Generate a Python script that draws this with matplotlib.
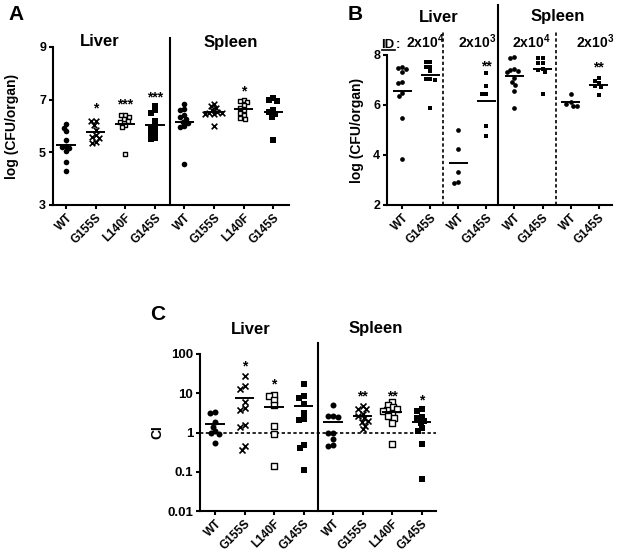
import numpy as np
import matplotlib
matplotlib.use('Agg')
import matplotlib.pyplot as plt
from matplotlib.lines import Line2D

plt.rcParams['font.family'] = ['Liberation Sans', 'DejaVu Sans']
plt.rcParams['font.weight'] = 'bold'
plt.rcParams['mathtext.fontset'] = 'custom'
plt.rcParams['mathtext.rm'] = 'Liberation Sans:bold'
plt.rcParams['mathtext.bf'] = 'Liberation Sans:bold'
plt.rcParams['mathtext.it'] = 'Liberation Sans:bold'

# ---------------- Data ----------------
strain_labels = ['WT', 'G155S', 'L140F', 'G145S', 'WT', 'G155S', 'L140F', 'G145S']
b_labels = ['WT', 'G145S', 'WT', 'G145S', 'WT', 'G145S', 'WT', 'G145S']

# Panel A: log(CFU/organ)
a_liver_wt = [6.07, 5.93, 5.80, 5.45, 5.25, 5.20, 5.15, 5.05, 4.65, 4.28]
a_liver_g155s = [6.20, 6.20, 6.05, 5.85, 5.65, 5.60, 5.55, 5.40, 5.35]
a_liver_l140f = [6.40, 6.40, 6.35, 6.25, 6.20, 6.15, 6.05, 5.95, 4.93]
a_liver_g145s = [6.77, 6.60, 6.50, 6.20, 5.95, 5.90, 5.75, 5.70, 5.55, 5.50]
a_spleen_wt = [6.85, 6.65, 6.60, 6.40, 6.35, 6.25, 6.15, 6.10, 6.00, 5.95, 4.55]
a_spleen_g155s = [6.85, 6.75, 6.70, 6.60, 6.55, 6.50, 6.50, 6.45, 6.45, 6.00]
a_spleen_l140f = [7.00, 6.95, 6.90, 6.80, 6.70, 6.60, 6.50, 6.40, 6.30, 6.25]
a_spleen_g145s = [7.05, 6.98, 6.95, 6.60, 6.55, 6.45, 6.35, 5.45]
a_stars = {1: '*', 2: '***', 3: '***', 6: '*'}
a_star_y = {1: 6.84, 2: 6.96, 3: 7.24, 6: 7.47}

# Panel B: log(CFU/organ), infectious doses 2x10^4 and 2x10^3
b_liver_wt_4 = [7.53, 7.47, 7.45, 7.33, 6.93, 6.88, 6.47, 6.35, 5.47, 3.84]
b_liver_g145s_4 = [7.73, 7.73, 7.53, 7.50, 7.36, 7.05, 7.03, 7.00, 5.87]
b_liver_wt_3 = [5.00, 4.25, 3.33, 2.93, 2.87]
b_liver_g145s_3 = [7.29, 6.76, 6.45, 6.42, 5.16, 4.77]
b_spleen_wt_4 = [7.93, 7.87, 7.45, 7.40, 7.35, 7.30, 7.07, 6.93, 6.80, 6.55, 5.89]
b_spleen_g145s_4 = [7.87, 7.87, 7.67, 7.67, 7.45, 7.40, 7.30, 6.43]
b_spleen_wt_3 = [6.45, 6.10, 6.05, 5.95, 5.95]
b_spleen_g145s_3 = [7.07, 6.97, 6.87, 6.75, 6.72, 6.40]
b_stars = {3: '**', 7: '**'}
b_star_y = {3: 7.72, 7: 7.68}
b_doses = [r'$\mathbf{2x10^4}$', r'$\mathbf{2x10^3}$', r'$\mathbf{2x10^4}$', r'$\mathbf{2x10^3}$']

# Panel C: competitive index
c_liver_wt = [3.3, 3.2, 1.8, 1.4, 1.1, 0.95, 0.9, 0.55]
c_liver_g155s = [28, 15, 13, 5.9, 4.3, 3.8, 1.55, 1.35, 0.46, 0.36]
c_liver_l140f = [9.0, 8.5, 6.8, 5.1, 1.48, 0.93, 0.14]
c_liver_g145s = [17.5, 8.3, 7.5, 5.4, 3.1, 2.2, 2.1, 0.47, 0.40, 0.11]
c_spleen_wt = [5.0, 2.7, 2.6, 2.5, 1.0, 0.95, 0.68, 0.47, 0.46]
c_spleen_g155s = [4.6, 4.0, 3.9, 3.0, 2.6, 2.3, 2.0, 1.8, 1.5, 1.2]
c_spleen_l140f = [6.0, 5.0, 4.5, 4.0, 3.8, 3.5, 3.0, 2.6, 2.3, 1.7, 0.52]
c_spleen_g145s = [3.9, 3.6, 2.5, 2.3, 2.0, 1.7, 1.3, 1.1, 0.52, 0.065]
c_stars = {1: '*', 2: '*', 5: '**', 6: '**', 7: '*'}
c_star_y = {1: 10**1.79, 2: 10**1.32, 5: 10**1.02, 6: 10**1.02, 7: 10**0.92}

a_data = [a_liver_wt, a_liver_g155s, a_liver_l140f, a_liver_g145s,
          a_spleen_wt, a_spleen_g155s, a_spleen_l140f, a_spleen_g145s]
b_data = [b_liver_wt_4, b_liver_g145s_4, b_liver_wt_3, b_liver_g145s_3,
          b_spleen_wt_4, b_spleen_g145s_4, b_spleen_wt_3, b_spleen_g145s_3]
c_data = [c_liver_wt, c_liver_g155s, c_liver_l140f, c_liver_g145s,
          c_spleen_wt, c_spleen_g155s, c_spleen_l140f, c_spleen_g145s]
strain_kinds = ['circle', 'x', 'open', 'square'] * 2
b_kinds = ['circle', 'square'] * 4

# ---------------- Figure ----------------
W, H = 617, 557
fig = plt.figure(figsize=(W / 100, H / 100), dpi=100)


def rect(l, t, r, b):
    return [l / W, 1 - b / H, (r - l) / W, (b - t) / H]


def ft(x, y, s, **kw):
    return fig.text(x / W, 1 - y / H, s, **kw)


def style_axes(ax, labels, ylab_size=9):
    for side in ['top', 'right']:
        ax.spines[side].set_visible(False)
    for side in ['left', 'bottom']:
        ax.spines[side].set_linewidth(1.5)
    ax.tick_params(axis='both', direction='out', length=3, width=1.5, pad=2)
    ax.tick_params(axis='y', labelsize=ylab_size)
    ax.minorticks_off()
    ax.set_xticks(range(len(labels)))
    ax.set_xticklabels(labels, rotation=45, ha='right', va='top',
                       rotation_mode='anchor', fontsize=8.5, fontweight='bold')
    for t in ax.get_yticklabels():
        t.set_fontweight('bold')


def swarm(ax, xc, vals, d_px):
    vals = np.asarray(vals, dtype=float)
    pts = ax.transData.transform(np.column_stack([np.full(len(vals), xc), vals]))
    ys = pts[:, 1]
    order = np.argsort(-ys, kind='stable')
    placed = []
    offs = np.zeros(len(vals))
    for i in order:
        y = ys[i]
        cands = [0.0]
        for xo, yo in placed:
            dy = abs(y - yo)
            if dy < d_px:
                dx = np.sqrt(d_px ** 2 - dy ** 2)
                cands += [xo - dx, xo + dx]
        cands.sort(key=lambda c: (abs(c), c))
        chosen = 0.0
        for c in cands:
            if all((c - xo) ** 2 + (y - yo) ** 2 >= d_px ** 2 - 1e-6 for xo, yo in placed):
                chosen = c
                break
        offs[i] = chosen
        placed.append((chosen, y))
    ppu = ax.transData.transform((1, 0))[0] - ax.transData.transform((0, 0))[0]
    return xc + offs / ppu


def draw_group(ax, xc, vals, kind, size_px, d_px, half=0.33):
    xs = swarm(ax, xc, vals, d_px)
    s = (size_px * 0.72) ** 2
    if kind == 'circle':
        ax.scatter(xs, vals, s=s, marker='o', c='k', linewidths=0, zorder=3, clip_on=False)
    elif kind == 'square':
        ax.scatter(xs, vals, s=s, marker='s', c='k', linewidths=0, zorder=3, clip_on=False)
    elif kind == 'open':
        ax.scatter(xs, vals, s=(size_px * 0.72 * 0.85) ** 2, marker='s', facecolors='white',
                   edgecolors='k', linewidths=1.0, zorder=3, clip_on=False)
    elif kind == 'x':
        ax.scatter(xs, vals, s=(size_px * 0.72) ** 2, marker='x', c='k',
                   linewidths=1.2, zorder=3, clip_on=False)
    m = np.mean(vals)
    ax.plot([xc - half, xc + half], [m, m], color='k', lw=1.4, zorder=4,
            solid_capstyle='butt')


def stars(ax, idx_map, y_map, size=10):
    for i, s in idx_map.items():
        ax.annotate(s, xy=(i, y_map[i]), xytext=(0, -3), textcoords='offset points',
                    ha='center', va='center', fontsize=size, fontweight='bold')


# ---------------- Panel A ----------------
axA = fig.add_axes(rect(53, 47, 289, 205))
axA.set_xlim(-0.44, 7.53)
axA.set_ylim(3, 9)
axA.set_yticks([3, 5, 7, 9])
style_axes(axA, strain_labels)
for i, (vals, kind) in enumerate(zip(a_data, strain_kinds)):
    draw_group(axA, i, vals, kind, 5.6, 4.3)
axA.plot([3.5, 3.5], [3, 9.34], color='k', lw=1.5, clip_on=False, zorder=5)
stars(axA, a_stars, a_star_y)
axA.set_ylabel('log (CFU/organ)', fontsize=10, fontweight='bold')
axA.yaxis.set_label_coords(-34 / 236, 0.5)

ft(16, 15, 'A', fontsize=15, fontweight='bold', ha='center', va='center')
ft(100, 42, 'Liver', fontsize=12, fontweight='bold', ha='center', va='center')
ft(231, 42, 'Spleen', fontsize=12, fontweight='bold', ha='center', va='center')

# ---------------- Panel B ----------------
axB = fig.add_axes(rect(387, 55, 612, 205))
axB.set_xlim(-0.55, 7.48)
axB.set_ylim(2, 8)
axB.set_yticks([2, 4, 6, 8])
style_axes(axB, b_labels)
for i, (vals, kind) in enumerate(zip(b_data, b_kinds)):
    draw_group(axB, i, vals, kind, 4.7, 4.3)
axB.plot([3.4, 3.4], [2, 10.0], color='k', lw=1.5, clip_on=False, zorder=5)
for xd in [1.46, 5.48]:
    axB.plot([xd, xd], [2, 8.92], color='k', lw=1.2, ls=(0, (2, 1.5)), clip_on=False, zorder=5)
stars(axB, b_stars, b_star_y)
axB.set_ylabel('log (CFU/organ)', fontsize=10, fontweight='bold')
axB.yaxis.set_label_coords(-23 / 225, 0.5)

ft(355, 15, 'B', fontsize=15, fontweight='bold', ha='center', va='center')
ft(439, 17, 'Liver', fontsize=12, fontweight='bold', ha='center', va='center')
ft(558, 17, 'Spleen', fontsize=12, fontweight='bold', ha='center', va='center')
ft(381.5, 48, 'ID', fontsize=9.5, fontweight='bold', ha='left', va='baseline')
ft(395.5, 48, ':', fontsize=9.5, fontweight='bold', ha='left', va='baseline')
fig.add_artist(Line2D([381.5 / W, 394.5 / W], [1 - 50 / H, 1 - 50 / H], color='k', lw=1.2))
for xc, s in zip([425, 477, 531, 595], b_doses):
    ft(xc, 48, s, fontsize=10, ha='center', va='baseline')

# ---------------- Panel C ----------------
axC = fig.add_axes(rect(200, 354, 436, 511))
axC.set_yscale('log')
axC.set_xlim(-0.51, 7.49)
axC.set_ylim(0.01, 100)
axC.set_yticks([0.01, 0.1, 1, 10, 100])
axC.set_yticklabels(['0.01', '0.1', '1', '10', '100'])
style_axes(axC, strain_labels, ylab_size=9.5)
axC.minorticks_off()
for i, (vals, kind) in enumerate(zip(c_data, strain_kinds)):
    draw_group(axC, i, vals, kind, 6.0, 4.8)
axC.plot([3.5, 3.5], [0.01, 194], color='k', lw=1.5, clip_on=False, zorder=5)
axC.axhline(1, color='k', lw=1.2, ls=(0, (2, 1.5)), zorder=1)
stars(axC, c_stars, c_star_y)
axC.set_ylabel('CI', fontsize=10, fontweight='bold')
axC.yaxis.set_label_coords(-36 / 236, 0.5)

ft(158, 315, 'C', fontsize=15, fontweight='bold', ha='center', va='center')
ft(251, 329, 'Liver', fontsize=12, fontweight='bold', ha='center', va='center')
ft(376, 329, 'Spleen', fontsize=12, fontweight='bold', ha='center', va='center')

fig.savefig('out.png', dpi=100, facecolor='white')
